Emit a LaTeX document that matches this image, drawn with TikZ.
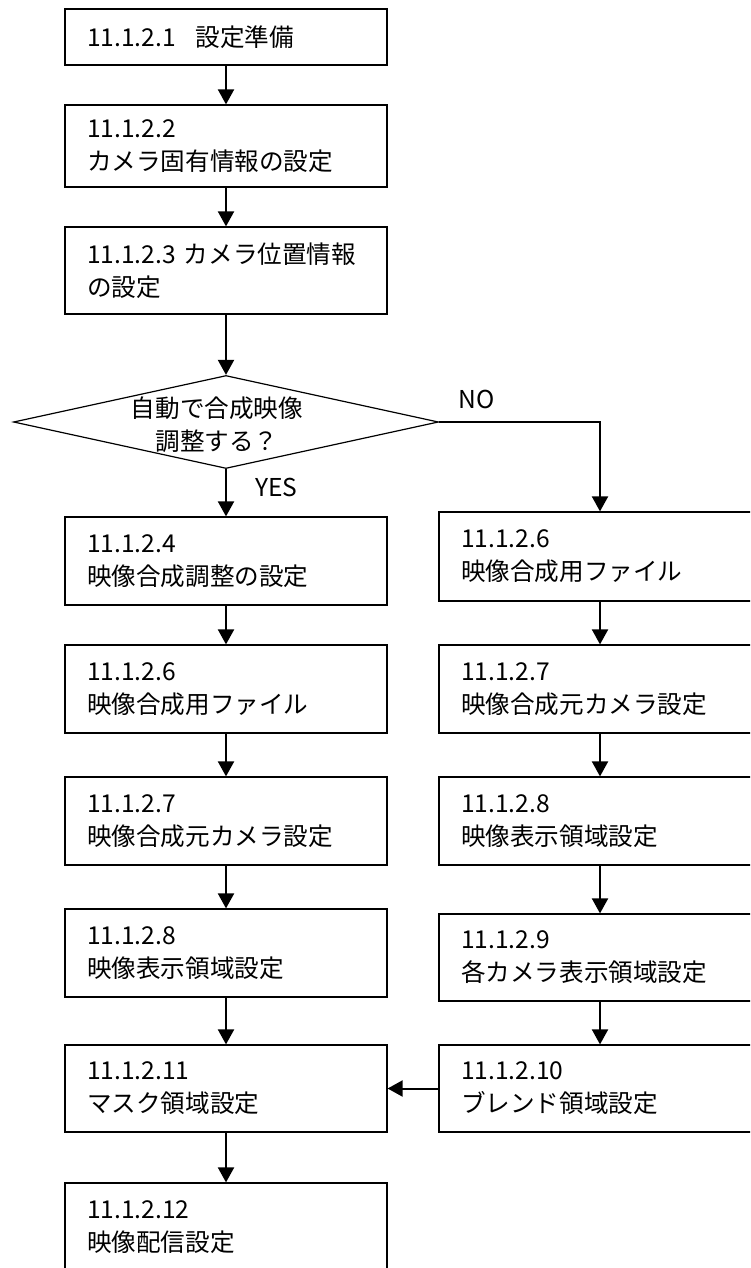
\documentclass[tikz,border=0pt]{standalone}
\usepackage{fontspec}
\setmainfont{Noto Sans CJK JP}
\usetikzlibrary{arrows.meta,shapes.geometric}
\begin{document}
\begin{tikzpicture}[x=1pt,y=-1pt,
  box/.style={draw,line width=1.2pt,rectangle,minimum width=322pt,inner sep=0pt,
    text width=278pt,align=left,font=\fontsize{24.6pt}{33pt}\selectfont},
  arr/.style={line width=2pt,-{Triangle[length=15pt,width=16pt]}},
  lbl/.style={font=\fontsize{24.6pt}{33pt}\selectfont,inner sep=0pt}]
\useasboundingbox (0,0) rectangle (750,1268);
\clip (0,0) rectangle (750,1268);
% left column
\node[box,minimum height=56pt] (b1) at (226,37) {11.1.2.1\hspace{0.8em}設定準備};
\node[box,minimum height=82pt] (b2) at (226,146) {11.1.2.2\\カメラ固有情報の設定};
\node[box,minimum height=87pt] (b3) at (226,270.5) {11.1.2.3 カメラ位置情報\\の設定};
\node[draw,diamond,line width=1.2pt,minimum width=425pt,minimum height=93pt,inner sep=0pt] (d) at (226,422) {};
\node[lbl,align=center] (dt) at (217,425) {自動で合成映像\\調整する？};
\node[box,minimum height=88pt] (b4) at (226,561) {11.1.2.4\\映像合成調整の設定};
\node[box,minimum height=88pt] (b5) at (226,689) {11.1.2.6\\映像合成用ファイル};
\node[box,minimum height=88pt] (b6) at (226,821) {11.1.2.7\\映像合成元カメラ設定};
\node[box,minimum height=88pt] (b7) at (226,953) {11.1.2.8\\映像表示領域設定};
\node[box,minimum height=87pt] (b11) at (226,1088.5) {11.1.2.11\\マスク領域設定};
\node[box,minimum height=88pt] (b12) at (226,1227) {11.1.2.12\\映像配信設定};
% right column
\node[box,minimum height=89pt] (r1) at (600,556.5) {11.1.2.6\\映像合成用ファイル};
\node[box,minimum height=88pt] (r2) at (600,689) {11.1.2.7\\映像合成元カメラ設定};
\node[box,minimum height=88pt] (r3) at (600,821) {11.1.2.8\\映像表示領域設定};
\node[box,minimum height=87pt] (r4) at (600,957.5) {11.1.2.9\\各カメラ表示領域設定};
\node[box,minimum height=87pt] (r5) at (600,1088.5) {11.1.2.10\\ブレンド領域設定};
% labels
\node[lbl,anchor=west] (yes) at (255,487) {YES};
\node[lbl] (no) at (477,399) {NO};
% connectors
\draw[arr] (b1.south) -- (b2.north);
\draw[arr] (b2.south) -- (b3.north);
\draw[arr] (b3.south) -- (d.north);
\draw[arr] (d.south) -- (b4.north);
\draw[arr] (b4.south) -- (b5.north);
\draw[arr] (b5.south) -- (b6.north);
\draw[arr] (b6.south) -- (b7.north);
\draw[arr] (b7.south) -- (b11.north);
\draw[arr] (b11.south) -- (b12.north);
\draw[arr] (d.east) -| (r1.north);
\draw[arr] (r1.south) -- (r2.north);
\draw[arr] (r2.south) -- (r3.north);
\draw[arr] (r3.south) -- (r4.north);
\draw[arr] (r4.south) -- (r5.north);
\draw[arr] (r5.west) -- (b11.east);
\end{tikzpicture}
\end{document}
